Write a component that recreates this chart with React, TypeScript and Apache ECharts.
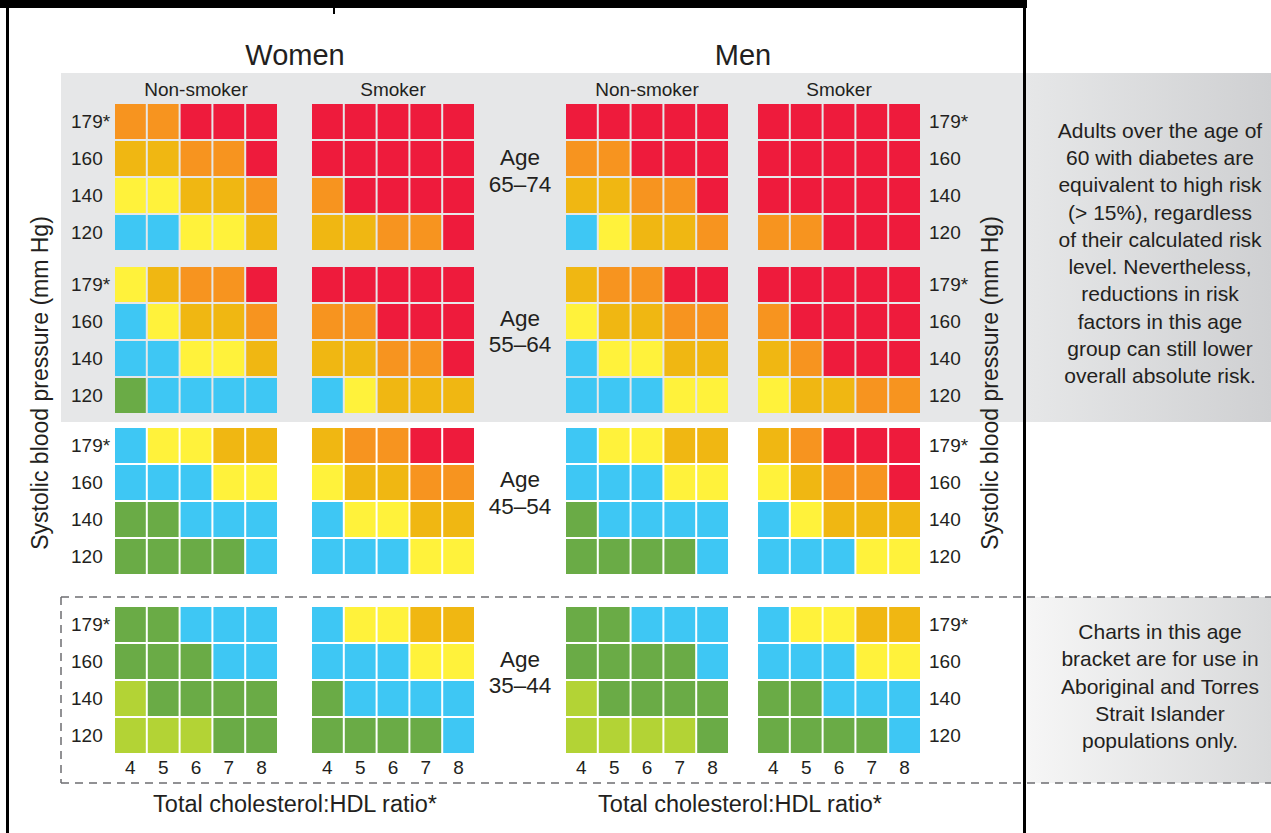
import React, { useEffect, useRef } from 'react';
import * as echarts from 'echarts';

// ---------- data ----------
const CHOL_RATIO = ['4', '5', '6', '7', '8'];
const SYSTOLIC = ['120', '140', '160', '179*'];
// risk level codes: 0 <2%, 1 2-4%, 2 5-9%, 3 10-14%, 4 15-19%, 5 20-29%, 6 >=30%
const LEVEL_COLORS = ['#b3d335', '#6aab46', '#3ec7f4', '#fff23b', '#f0b712', '#f7941f', '#ee1b3c'];

// rows listed top to bottom: 179*, 160, 140, 120 ; columns ratio 4..8
const women65NonSmoker = [[5, 5, 6, 6, 6], [4, 4, 5, 5, 6], [3, 3, 4, 4, 5], [2, 2, 3, 3, 4]];
const women65Smoker = [[6, 6, 6, 6, 6], [6, 6, 6, 6, 6], [5, 6, 6, 6, 6], [4, 4, 5, 5, 6]];
const men65NonSmoker = [[6, 6, 6, 6, 6], [5, 5, 6, 6, 6], [4, 4, 5, 5, 6], [2, 3, 4, 4, 5]];
const men65Smoker = [[6, 6, 6, 6, 6], [6, 6, 6, 6, 6], [6, 6, 6, 6, 6], [5, 5, 6, 6, 6]];

const women55NonSmoker = [[3, 4, 5, 5, 6], [2, 3, 4, 4, 5], [2, 2, 3, 3, 4], [1, 2, 2, 2, 2]];
const women55Smoker = [[6, 6, 6, 6, 6], [5, 5, 6, 6, 6], [4, 4, 5, 5, 6], [2, 3, 4, 4, 4]];
const men55NonSmoker = [[4, 5, 5, 6, 6], [3, 4, 4, 5, 5], [2, 3, 3, 4, 4], [2, 2, 2, 3, 3]];
const men55Smoker = [[6, 6, 6, 6, 6], [5, 6, 6, 6, 6], [4, 5, 6, 6, 6], [3, 4, 4, 5, 5]];

const women45NonSmoker = [[2, 3, 3, 4, 4], [2, 2, 2, 3, 3], [1, 1, 2, 2, 2], [1, 1, 1, 1, 2]];
const women45Smoker = [[4, 5, 5, 6, 6], [3, 4, 4, 5, 5], [2, 3, 3, 4, 4], [2, 2, 2, 3, 3]];
const men45NonSmoker = [[2, 3, 3, 4, 4], [2, 2, 2, 3, 3], [1, 2, 2, 2, 2], [1, 1, 1, 1, 2]];
const men45Smoker = [[4, 5, 6, 6, 6], [3, 4, 5, 5, 6], [2, 3, 4, 4, 4], [2, 2, 2, 3, 3]];

const women35NonSmoker = [[1, 1, 2, 2, 2], [1, 1, 1, 2, 2], [0, 1, 1, 1, 1], [0, 0, 0, 1, 1]];
const women35Smoker = [[2, 3, 3, 4, 4], [2, 2, 2, 3, 3], [1, 2, 2, 2, 2], [1, 1, 1, 1, 2]];
const men35NonSmoker = [[1, 1, 2, 2, 2], [1, 1, 1, 1, 2], [0, 1, 1, 1, 1], [0, 0, 0, 0, 1]];
const men35Smoker = [[2, 3, 3, 4, 4], [2, 2, 2, 3, 3], [1, 1, 2, 2, 2], [1, 1, 1, 1, 2]];

const AGE_LABELS = ['Age\n65–74', 'Age\n55–64', 'Age\n45–54', 'Age\n35–44'];
const SEX_LABELS = ['Women', 'Men'];
const SMOKING_LABELS = ['Non-smoker', 'Smoker', 'Non-smoker', 'Smoker'];
const X_TITLE = 'Total cholesterol:HDL ratio*';
const Y_TITLE = 'Systolic blood pressure (mm Hg)';
const NOTE_OLDER = [
  'Adults over the age of',
  '60 with diabetes are',
  'equivalent to high risk',
  '(> 15%), regardless',
  'of their calculated risk',
  'level. Nevertheless,',
  'reductions in risk',
  'factors in this age',
  'group can still lower',
  'overall absolute risk.',
];
const NOTE_YOUNGER = [
  'Charts in this age',
  'bracket are for use in',
  'Aboriginal and Torres',
  'Strait Islander',
  'populations only.',
];

const PANELS = [
  [women65NonSmoker, women65Smoker, men65NonSmoker, men65Smoker],
  [women55NonSmoker, women55Smoker, men55NonSmoker, men55Smoker],
  [women45NonSmoker, women45Smoker, men45NonSmoker, men45Smoker],
  [women35NonSmoker, women35Smoker, men35NonSmoker, men35Smoker],
];

// ---------- layout ----------
const FONT = '"Liberation Sans", Arial, Helvetica, sans-serif';
const INK = '#231f20';
const GRID_LEFT = [114, 311, 565, 757];
const GRID_TOP = [103, 266, 427, 606];
const GRID_W = 164;
const GRID_H = 148;
const AGE_Y = [171, 331.5, 493, 672.5];

function text(t: string, x: number, y: number, size: number, extra: any = {}, rot = 0) {
  return {
    type: 'text',
    x,
    y,
    rotation: rot,
    silent: true,
    z: 20,
    style: {
      text: t,
      fontSize: size,
      fontFamily: FONT,
      fill: INK,
      align: 'center',
      verticalAlign: 'middle',
      ...extra,
    },
  };
}

function dash(x1: number, y1: number, x2: number, y2: number) {
  return {
    type: 'line',
    silent: true,
    z: 15,
    shape: { x1, y1, x2, y2 },
    style: { stroke: '#6d6e71', lineWidth: 1.5, lineDash: [8, 6] },
  };
}

export default function App() {
  const ref = useRef<HTMLDivElement>(null);

  useEffect(() => {
    if (!ref.current) return;
    const chart = echarts.init(ref.current, undefined, { renderer: 'svg' });

    const grids: any[] = [];
    const xAxes: any[] = [];
    const yAxes: any[] = [];
    const series: any[] = [];

    PANELS.forEach((rowPanels, r) => {
      rowPanels.forEach((cells, c) => {
        const idx = grids.length;
        grids.push({ left: GRID_LEFT[c], top: GRID_TOP[r], width: GRID_W, height: GRID_H });
        xAxes.push({
          type: 'category',
          gridIndex: idx,
          data: CHOL_RATIO,
          axisLine: { show: false },
          axisTick: { show: false },
          splitLine: { show: false },
          axisLabel: { show: r === 3, margin: 4, fontSize: 19, fontFamily: FONT, color: INK },
        });
        const showY = c === 0 || c === 3;
        yAxes.push({
          type: 'category',
          gridIndex: idx,
          data: SYSTOLIC,
          position: c === 3 ? 'right' : 'left',
          axisLine: { show: false },
          axisTick: { show: false },
          splitLine: { show: false },
          axisLabel: {
            show: showY,
            align: 'left',
            margin: c === 3 ? 8 : 43,
            fontSize: 19,
            fontFamily: FONT,
            color: INK,
          },
        });
        const data: number[][] = [];
        cells.forEach((row, ri) => {
          row.forEach((lvl, ci) => {
            data.push([ci, SYSTOLIC.length - 1 - ri, lvl]);
          });
        });
        series.push({
          type: 'custom',
          xAxisIndex: idx,
          yAxisIndex: idx,
          encode: { x: 0, y: 1 },
          data,
          renderItem: (_p: any, api: any) => {
            const pt = api.coord([api.value(0), api.value(1)]);
            const sz = api.size([1, 1]);
            return {
              type: 'rect',
              shape: {
                x: pt[0] - sz[0] / 2 + 1,
                y: pt[1] - sz[1] / 2 + 1,
                width: sz[0] - 2,
                height: sz[1] - 2,
              },
              style: { fill: LEVEL_COLORS[api.value(2)] },
            };
          },
        });
      });
    });

    const graphic: any[] = [
      // shaded band for older groups
      { type: 'rect', silent: true, z: 0, shape: { x: 61, y: 73, width: 966, height: 349 }, style: { fill: '#e6e7e8' } },
      {
        type: 'rect', silent: true, z: 0,
        shape: { x: 1026, y: 73, width: 245, height: 349 },
        style: {
          fill: new echarts.graphic.LinearGradient(0, 0, 1, 0, [
            { offset: 0, color: '#e6e7e8' },
            { offset: 1, color: '#cfd0d2' },
          ]),
        },
      },
      {
        type: 'rect', silent: true, z: 0,
        shape: { x: 1026, y: 597, width: 245, height: 186 },
        style: {
          fill: new echarts.graphic.LinearGradient(0, 0, 1, 0, [
            { offset: 0, color: '#f6f6f6' },
            { offset: 1, color: '#d9dadb' },
          ]),
        },
      },
      // frame
      { type: 'rect', silent: true, z: 30, shape: { x: 0, y: 0, width: 1027, height: 8 }, style: { fill: '#000' } },
      { type: 'rect', silent: true, z: 30, shape: { x: 333, y: 8, width: 2, height: 6 }, style: { fill: '#000' } },
      { type: 'rect', silent: true, z: 30, shape: { x: 6, y: 0, width: 3, height: 833 }, style: { fill: '#000' } },
      { type: 'rect', silent: true, z: 30, shape: { x: 1023, y: 0, width: 3, height: 833 }, style: { fill: '#000' } },
      // dashed box for 35-44
      dash(61, 597, 1271, 597),
      dash(61, 783, 1271, 783),
      dash(61, 597, 61, 783),
      // titles
      text(SEX_LABELS[0], 295, 55, 29),
      text(SEX_LABELS[1], 743, 55, 29),
      ...SMOKING_LABELS.map((s, i) => text(s, GRID_LEFT[i] + GRID_W / 2, 89, 19)),
      ...AGE_LABELS.map((s, i) => text(s, 520, AGE_Y[i], 22.5, { lineHeight: 26.5 })),
      text(X_TITLE, 295, 804, 23.5),
      text(X_TITLE, 740, 804, 23.5),
      text(Y_TITLE, 40, 383, 23, {}, Math.PI / 2),
      text(Y_TITLE, 990, 383, 23, {}, Math.PI / 2),
      text(NOTE_OLDER.join('\n'), 1160, 253, 21, { lineHeight: 27.3 }),
      text(NOTE_YOUNGER.join('\n'), 1160, 686, 21, { lineHeight: 27.3 }),
    ];

    chart.setOption({
      animation: false,
      backgroundColor: '#ffffff',
      grid: grids,
      xAxis: xAxes,
      yAxis: yAxes,
      series,
      graphic: { elements: graphic },
    });

    return () => chart.dispose();
  }, []);

  return (
    <div
      ref={ref}
      style={{ position: 'fixed', left: 0, top: 0, width: 1271, height: 833, background: '#fff' }}
    />
  );
}
